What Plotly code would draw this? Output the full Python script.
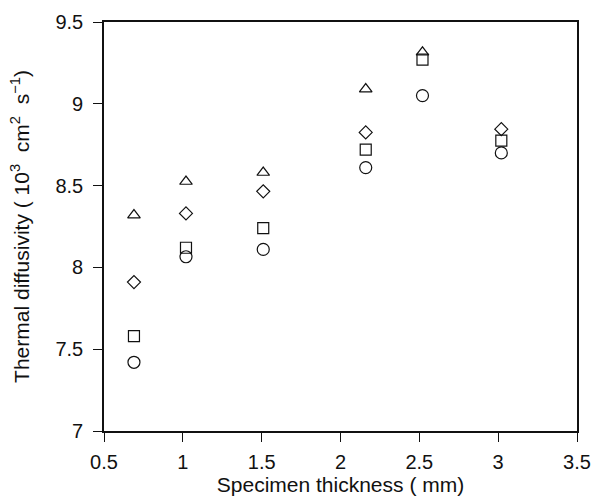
import plotly.graph_objects as go

# Data
thickness = [0.69, 1.02, 1.51, 2.16, 2.52, 3.02]
triangle_vals = [8.32, 8.525, 8.58, 9.09, 9.315, None]
diamond_vals = [7.91, 8.33, 8.465, 8.825, None, 8.845]
square_vals = [7.58, 8.12, 8.24, 8.72, 9.27, 8.775]
circle_vals = [7.42, 8.065, 8.11, 8.61, 9.05, 8.70]

x_ticks = [0.5, 1, 1.5, 2, 2.5, 3, 3.5]
y_ticks = [7, 7.5, 8, 8.5, 9, 9.5]

FONT = "Liberation Sans, Arial, sans-serif"

fig = go.Figure()
series = [
    ("Triangle", triangle_vals, "triangle-up-open", 11),
    ("Diamond", diamond_vals, "diamond-open", 10),
    ("Square", square_vals, "square-open", 11),
    ("Circle", circle_vals, "circle-open", 12),
]
for name, vals, sym, size in series:
    fig.add_trace(go.Scatter(
        x=thickness, y=vals, mode="markers", name=name,
        marker=dict(symbol=sym, size=size, color="#111111",
                    line=dict(width=1.2, color="#111111")),
    ))

axis_common = dict(
    showline=True, linecolor="#111111", linewidth=1.6, mirror=True,
    ticks="outside", ticklen=9, tickwidth=1.3, tickcolor="#111111",
    showgrid=False, zeroline=False, automargin=False,
    tickfont=dict(family=FONT, size=20, color="#111111"),
)

fig.update_layout(
    width=599, height=502,
    margin=dict(l=104, r=22, t=22, b=71),
    plot_bgcolor="white", paper_bgcolor="white",
    showlegend=False,
    font=dict(family=FONT, color="#111111", size=20),
    xaxis=dict(range=[0.5, 3.5], tickvals=x_ticks,
               ticktext=[f"{v:g}" for v in x_ticks],
               ticklabelstandoff=3,
               title=dict(text="Specimen thickness ( mm)", font=dict(family=FONT, size=21), standoff=6),
               **axis_common),
    yaxis=dict(range=[7, 9.5], tickvals=y_ticks,
               ticktext=[f"{v:g}" for v in y_ticks],
               ticklabelstandoff=6,
               title=dict(text="Thermal diffusivity ( 10<sup>3</sup>  cm<sup>2</sup>  s<sup>−1</sup>)",
                          font=dict(family=FONT, size=21), standoff=20),
               **axis_common),
)

fig.write_html("out.html", config={"displayModeBar": False},
               post_script="document.body.style.margin='0';document.body.style.padding='0';")
